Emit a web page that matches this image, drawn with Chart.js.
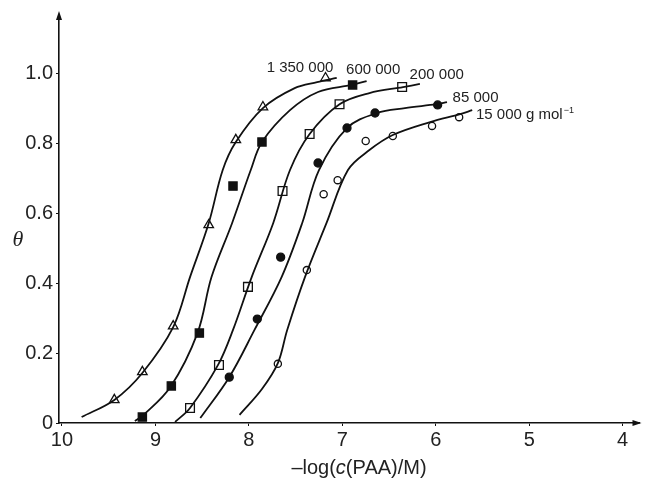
<!DOCTYPE html>
<html>
<head>
<meta charset="utf-8">
<script src="https://cdn.jsdelivr.net/npm/chart.js@4.4.1/dist/chart.umd.min.js"></script>
<style>
  html, body { margin: 0; padding: 0; background: #fff; }
  #wrap { width: 647px; height: 479px; }
</style>
</head>
<body>
<div id="wrap"><canvas id="adsorptionChart" width="647" height="479"></canvas></div>
<script>
// tick labels
const xTicks = [10, 9, 8, 7, 6, 5, 4];
const yTicks = [0, 0.2, 0.4, 0.6, 0.8, 1.0];

// molar masses (curve labels)
const seriesNames = ['1 350 000', '600 000', '200 000', '85 000', '15 000 g mol'];

// measured points, x = -log(c(PAA)/M), y = theta
const pts1350kX = [9.44, 9.14, 8.81, 8.43, 8.14, 7.85, 7.18];
const pts1350kY = [0.066, 0.146, 0.277, 0.566, 0.809, 0.903, 0.986];
const pts600kX = [9.14, 8.83, 8.53, 8.17, 7.86, 6.89];
const pts600kY = [0.017, 0.106, 0.257, 0.677, 0.803, 0.966];
const pts200kX = [8.63, 8.32, 8.01, 7.64, 7.35, 7.03, 6.36];
const pts200kY = [0.043, 0.166, 0.389, 0.663, 0.826, 0.911, 0.96];
const pts85kX = [8.21, 7.91, 7.66, 7.26, 6.95, 6.65, 5.98];
const pts85kY = [0.131, 0.297, 0.474, 0.743, 0.843, 0.886, 0.909];
const pts15kX = [7.69, 7.38, 7.20, 7.05, 6.75, 6.46, 6.04, 5.75];
const pts15kY = [0.169, 0.437, 0.654, 0.694, 0.806, 0.82, 0.849, 0.874];

// fitted curves
const fit1350kX = [9.79, 9.44, 9.14, 8.81, 8.63, 8.43, 8.28, 8.14, 7.85, 7.51, 7.27, 7.06];
const fit1350kY = [0.017, 0.066, 0.143, 0.274, 0.417, 0.571, 0.723, 0.803, 0.9, 0.957, 0.974, 0.986];
const fit600kX = [9.22, 9.14, 8.84, 8.55, 8.40, 8.18, 7.98, 7.86, 7.56, 7.26, 6.90, 6.74];
const fit600kY = [0.006, 0.02, 0.103, 0.257, 0.417, 0.571, 0.723, 0.803, 0.894, 0.946, 0.966, 0.977];
const fit200kX = [8.79, 8.63, 8.33, 8.17, 7.97, 7.74, 7.56, 7.35, 7.03, 6.71, 6.35, 6.17];
const fit200kY = [0.003, 0.043, 0.166, 0.266, 0.417, 0.571, 0.723, 0.826, 0.911, 0.943, 0.96, 0.969];
const fit85kX = [8.52, 8.21, 7.94, 7.65, 7.43, 7.25, 6.95, 6.63, 6.33, 5.99, 5.88];
const fit85kY = [0.014, 0.131, 0.266, 0.417, 0.571, 0.723, 0.843, 0.886, 0.9, 0.911, 0.917];
const fit15kX = [8.10, 7.86, 7.69, 7.59, 7.40, 7.17, 6.94, 6.71, 6.46, 6.06, 5.74, 5.61];
const fit15kY = [0.023, 0.097, 0.171, 0.266, 0.417, 0.571, 0.723, 0.78, 0.823, 0.86, 0.883, 0.894];

const zip = (xs, ys) => xs.map((x, i) => ({ x, y: ys[i] }));

function curve(xs, ys) {
  return {
    type: 'line',
    data: zip(xs, ys),
    borderColor: '#111',
    borderWidth: 1.8,
    pointRadius: 0,
    fill: false,
    tension: 0.35
  };
}

function marks(xs, ys, style, filled, r) {
  return {
    type: 'scatter',
    data: zip(xs, ys),
    pointStyle: style,
    pointRadius: r,
    pointBackgroundColor: filled ? '#111' : '#fff',
    pointBorderColor: '#111',
    pointBorderWidth: 1.3,
    showLine: false
  };
}

const FONT = "'Liberation Sans', Arial, sans-serif";

// curve labels, arrows on the axes, axis titles
const decorations = {
  id: 'decorations',
  afterDraw(chart) {
    const { ctx, chartArea: a, scales: { x, y } } = chart;
    ctx.save();
    ctx.fillStyle = '#111';

    // arrow heads
    ctx.beginPath();
    ctx.moveTo(a.left, a.top - 4);
    ctx.lineTo(a.left - 3, a.top + 5);
    ctx.lineTo(a.left + 3, a.top + 5);
    ctx.closePath();
    ctx.fill();
    ctx.beginPath();
    ctx.moveTo(a.right + 2, a.bottom);
    ctx.lineTo(a.right - 7, a.bottom - 3);
    ctx.lineTo(a.right - 7, a.bottom + 3);
    ctx.closePath();
    ctx.fill();

    // labels next to the curve ends
    ctx.fillStyle = '#222';
    ctx.font = '15px ' + FONT;
    ctx.textBaseline = 'middle';
    ctx.textAlign = 'left';
    const spots = [[7.81, 1.014], [6.96, 1.009], [6.28, 0.994], [5.82, 0.929], [5.57, 0.88]];
    seriesNames.forEach((name, i) => {
      const px = x.getPixelForValue(spots[i][0]);
      const py = y.getPixelForValue(spots[i][1]);
      ctx.fillText(name, px, py);
      if (i === seriesNames.length - 1) {
        const w = ctx.measureText(name).width;
        ctx.font = '9px ' + FONT;
        ctx.fillText('\u22121', px + w + 1, py - 5);
        ctx.font = '15px ' + FONT;
      }
    });

    // x title: -log(c(PAA)/M) with italic c
    const parts = [['\u2013log(', ''], ['c', 'italic '], ['(PAA)/M)', '']];
    let total = 0;
    parts.forEach(p => { ctx.font = p[1] + '20px ' + FONT; total += ctx.measureText(p[0]).width; });
    let cx = 359 - total / 2;
    parts.forEach(p => {
      ctx.font = p[1] + '20px ' + FONT;
      ctx.fillText(p[0], cx, 468);
      cx += ctx.measureText(p[0]).width;
    });

    // y title
    ctx.font = "italic 22px 'Liberation Serif', 'DejaVu Serif', serif";
    ctx.textAlign = 'center';
    ctx.fillText('\u03b8', 18, 240);
    ctx.restore();
  }
};

new Chart(document.getElementById('adsorptionChart'), {
  data: {
    datasets: [
      curve(fit1350kX, fit1350kY),
      curve(fit600kX, fit600kY),
      curve(fit200kX, fit200kY),
      curve(fit85kX, fit85kY),
      curve(fit15kX, fit15kY),
      marks(pts1350kX, pts1350kY, 'triangle', false, 5.5),
      marks(pts600kX, pts600kY, 'rect', true, 5.8),
      marks(pts200kX, pts200kY, 'rect', false, 6.2),
      marks(pts85kX, pts85kY, 'circle', true, 4),
      marks(pts15kX, pts15kY, 'circle', false, 3.6)
    ]
  },
  options: {
    responsive: false,
    animation: false,
    layout: { padding: { left: 0, right: 2, top: 15, bottom: 0 } },
    plugins: { legend: { display: false }, tooltip: { enabled: false } },
    scales: {
      x: {
        type: 'linear',
        reverse: true,
        min: 3.82,
        max: 10.032,
        afterBuildTicks: s => { s.ticks = xTicks.map(v => ({ value: v })); },
        afterFit: s => { s.height = 56; },
        grid: { display: true, drawOnChartArea: false, drawTicks: true, tickLength: 3, color: '#111' },
        border: { display: true, color: '#111', width: 1.6 },
        ticks: { color: '#222', padding: 2, font: { family: FONT, size: 20 }, callback: v => String(v) }
      },
      y: {
        type: 'linear',
        min: 0,
        max: 1.166,
        afterBuildTicks: s => { s.ticks = yTicks.map(v => ({ value: v })); },
        afterFit: s => { s.width = 59; },
        grid: { display: true, drawOnChartArea: false, drawTicks: true, tickLength: 3, color: '#111' },
        border: { display: true, color: '#111', width: 1.6 },
        ticks: { color: '#222', padding: 3, font: { family: FONT, size: 20 }, callback: v => v === 0 ? '0' : v.toFixed(1) }
      }
    }
  },
  plugins: [decorations]
});
</script>
</body>
</html>
